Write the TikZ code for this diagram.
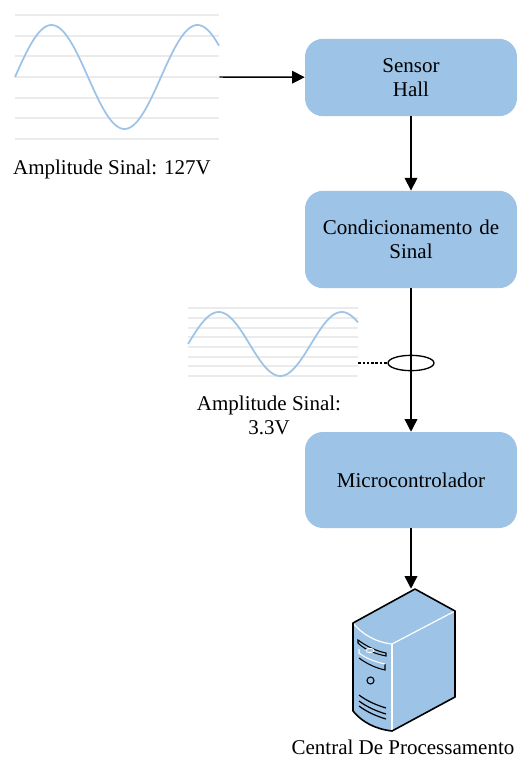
\documentclass[tikz,border=0pt]{standalone}
\usepackage{fontspec}
\setmainfont{Liberation Serif}
\usetikzlibrary{arrows.meta,calc,shapes.geometric}
\definecolor{boxblue}{RGB}{157,195,230}
\definecolor{waveblue}{RGB}{157,195,230}
\definecolor{gridgrey}{RGB}{235,235,235}
\tikzset{
  x=0.75pt,y=-0.75pt,
  procbox/.style={draw=none,fill=boxblue,rounded corners=13.5pt,minimum width=159pt,text width=155pt,align=center,inner sep=0pt,font=\fontsize{15.75}{18.2}\selectfont},
  lbl/.style={align=center,inner sep=0pt,font=\fontsize{15.75}{18.4}\selectfont},
  conn/.style={draw=black,line width=1.1pt,-{Triangle[length=9.5pt,width=9.5pt]}},
  gridl/.style={draw=gridgrey,line width=1.5pt},
  wave/.style={draw=waveblue,line width=1.3pt},
  hole/.style={inner sep=0pt,minimum width=0pt,minimum height=0pt},
  srv/.style={line width=1.2pt,draw=black,line join=round},
  srvw/.style={line width=0.9pt,draw=white},
}
\begin{document}
\begin{tikzpicture}
\useasboundingbox[fill=white] (0,0) rectangle (517,758);
% big wave
\foreach \yy in {15,36,56,77,98,118,139} \draw[gridl] (15,\yy) -- (219,\yy);
\draw[wave] plot[domain=15:219,samples=90,smooth] (\x,{77-52*sin((\x-15)/146*360)});
\node[hole] (sig1) at (219,77) {};
\node[lbl,anchor=center] (t1) at (112,169.5) {Amplitude Sinal: 127V};
% small wave
\foreach \yy in {308,318,328,337,347,357,366,376} \draw[gridl] (188,\yy) -- (358,\yy);
\draw[wave] plot[domain=188:358,samples=80,smooth] (\x,{344-32*sin((\x-188)/123*360)});
\node[hole] (sig2) at (358,363) {};
\node[lbl,anchor=center] (t2) at (269,415.5) {Amplitude Sinal:\\3.3V};
% boxes
\node[procbox,minimum height=58pt] (hall) at (411,77.5) {Sensor\\Hall};
\node[procbox,minimum height=73pt] (cond) at (411,239.5) {Condicionamento de\\Sinal};
\node[procbox,minimum height=72pt] (micro) at (411,480) {Microcontrolador};
% server
\node[hole] (pc) at (411,589) {};
\fill[boxblue] (415,589) -- (455,611) -- (455,697) -- (392,731) .. controls (375,729) and (362,722) .. (353,711) -- (353,623) -- cycle;
\draw[srvw] (353,623) .. controls (362,634) and (375,642) .. (392,644) -- (455,611);
\draw[srvw] (392,644) -- (392,731);
\draw[srv] (415,589) -- (455,611) -- (455,697) -- (392,731) .. controls (375,729) and (362,722) .. (353,711) -- (353,623) -- cycle;
\draw[black,line width=0.8pt,fill=boxblue] (358,640) .. controls (366,646) and (376,651) .. (386,653) -- (386,656) .. controls (376,654) and (365,650) .. (358,643) -- cycle;
\draw[black,line width=0.8pt] (385,664) -- (385,670) .. controls (376,668) and (367,664) .. (359,658);
\draw[white,line width=0.8pt] (359,649) -- (359,653) .. controls (367,659) and (376,662) .. (385,664);
\draw[black,line width=0.8pt] (370.5,680.5) circle[radius=3.5];
\fill[boxblue,draw=white,line width=0.6pt] (370,650.5) ellipse[x radius=4,y radius=2.2];
\draw[black,line width=0.9pt] (359,695) .. controls (367,701) and (376,705) .. (386,708);
\draw[black,line width=0.9pt] (359,701) .. controls (367,707) and (376,711) .. (386,714);
\draw[black,line width=0.9pt] (359,706) .. controls (367,712) and (376,716) .. (386,719);
\node[lbl,anchor=center] (t3) at (403,747.5) {Central De Processamento};
% connectors
\draw[conn] (sig1) -- (hall);
\draw[conn] (hall) -- (cond);
\draw[conn] (cond) -- (micro);
\draw[conn] (micro) -- (pc);
\node[draw=black,line width=1pt,ellipse,minimum width=34.5pt,minimum height=11.5pt,inner sep=0pt] (ring) at (411,363) {};
\draw[black,line width=0.9pt,dash pattern=on 2pt off 1.2pt] (sig2) -- (ring);
\end{tikzpicture}
\end{document}
